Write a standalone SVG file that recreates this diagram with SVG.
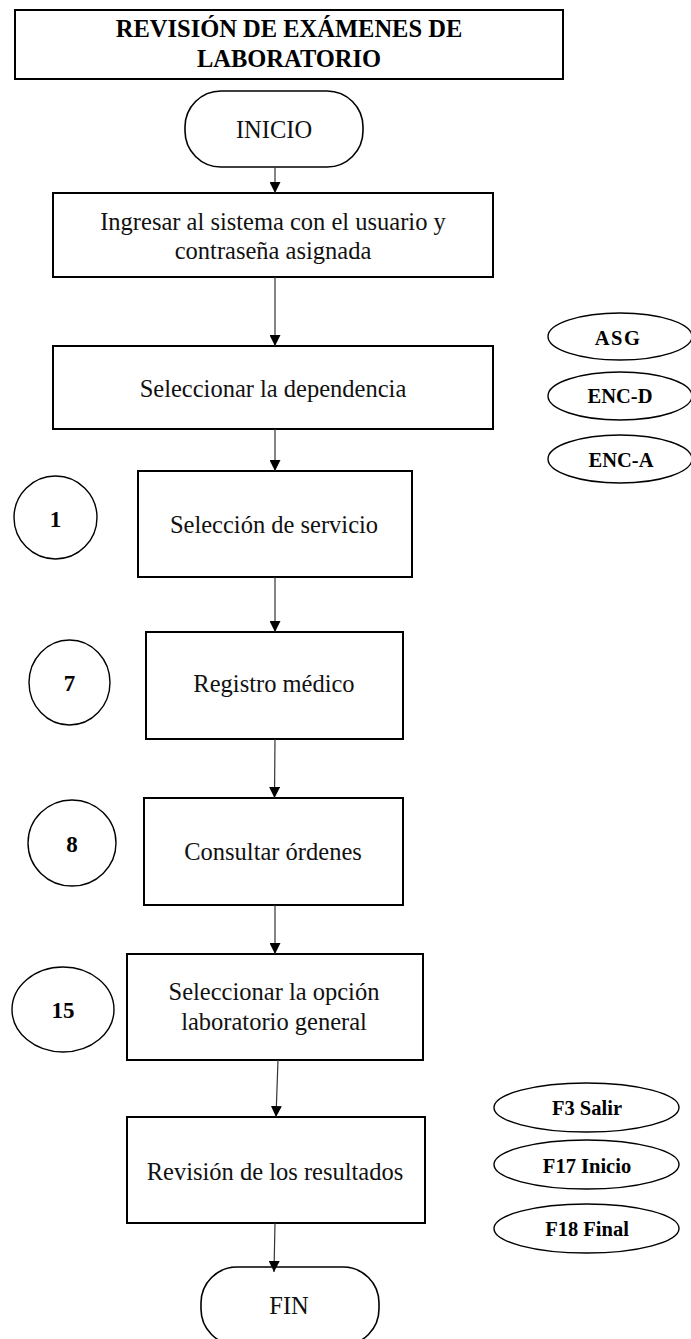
<svg xmlns="http://www.w3.org/2000/svg" width="691" height="1339" viewBox="0 0 691 1339">
<style>
  .box { fill: #ffffff; stroke: #000000; stroke-width: 2; }
  .term { fill: #ffffff; stroke: #000000; stroke-width: 1.6; }
  .circ { fill: #ffffff; stroke: #000000; stroke-width: 1.4; }
  .ell { fill: #ffffff; stroke: #000000; stroke-width: 1.4; }
  .txt { font-family: "Liberation Serif", "Times New Roman", serif; font-size: 24.5px; fill: #111111; text-anchor: middle; }
  .title { font-family: "Liberation Serif", "Times New Roman", serif; font-size: 24.5px; font-weight: bold; fill: #000000; text-anchor: middle; }
  .num { font-family: "Liberation Serif", "Times New Roman", serif; font-size: 23px; font-weight: bold; fill: #000000; text-anchor: middle; }
  .key { font-family: "Liberation Serif", "Times New Roman", serif; font-size: 20.5px; font-weight: bold; fill: #000000; text-anchor: middle; }
  .conn { stroke: #333333; stroke-width: 1.2; fill: none; marker-end: url(#arrow); }
</style>
<defs>
  <marker id="arrow" markerUnits="userSpaceOnUse" viewBox="0 0 10 10" refX="10" refY="5" markerWidth="11" markerHeight="11" orient="auto">
    <path d="M0,0 L10,5 L0,10 z" fill="#000000"/>
  </marker>
</defs>

<g id="title">
  <rect class="box" x="15" y="10" width="548" height="69"/>
  <text class="title" x="289" y="37">REVISIÓN DE EXÁMENES DE</text>
  <text class="title" x="289" y="67">LABORATORIO</text>
</g>

<g id="inicio">
  <rect class="term" x="185" y="91" width="178" height="76" rx="36" ry="36"/>
  <text class="txt" x="274" y="138">INICIO</text>
</g>

<g id="ingresar">
  <rect class="box" x="53" y="193" width="440" height="84"/>
  <text class="txt" x="273" y="230">Ingresar al sistema con el usuario y</text>
  <text class="txt" x="273" y="259">contraseña asignada</text>
</g>

<g id="dependencia">
  <rect class="box" x="53" y="346" width="440" height="83"/>
  <text class="txt" x="273" y="397">Seleccionar la dependencia</text>
</g>

<g id="servicio">
  <rect class="box" x="138" y="471" width="274" height="106"/>
  <text class="txt" x="274" y="533">Selección de servicio</text>
</g>

<g id="registro">
  <rect class="box" x="146" y="632" width="257" height="107"/>
  <text class="txt" x="274" y="692">Registro médico</text>
</g>

<g id="consultar">
  <rect class="box" x="144" y="798" width="259" height="107"/>
  <text class="txt" x="273" y="860">Consultar órdenes</text>
</g>

<g id="laboratorio">
  <rect class="box" x="127" y="954" width="296" height="106"/>
  <text class="txt" x="274" y="1000">Seleccionar la opción</text>
  <text class="txt" x="274" y="1030">laboratorio general</text>
</g>

<g id="revision">
  <rect class="box" x="127" y="1117" width="298" height="106"/>
  <text class="txt" x="275" y="1180">Revisión de los resultados</text>
</g>

<g id="fin">
  <rect class="term" x="201" y="1267" width="178" height="78" rx="36" ry="36"/>
  <text class="txt" x="289" y="1314">FIN</text>
</g>

<g id="c1">
  <ellipse class="circ" cx="55.5" cy="517.5" rx="41.5" ry="41.5"/>
  <text class="num" x="55.5" y="527">1</text>
</g>
<g id="c7">
  <ellipse class="circ" cx="69.5" cy="682.5" rx="40.5" ry="42.5"/>
  <text class="num" x="69.5" y="691">7</text>
</g>
<g id="c8">
  <ellipse class="circ" cx="72" cy="843" rx="44" ry="43"/>
  <text class="num" x="72" y="852">8</text>
</g>
<g id="c15">
  <ellipse class="circ" cx="63" cy="1009.5" rx="51" ry="42.5"/>
  <text class="num" x="63" y="1018">15</text>
</g>

<g id="asg">
  <ellipse class="ell" cx="620" cy="336.5" rx="72" ry="23.5"/>
  <text class="key" x="618" y="345" letter-spacing="1.5">ASG</text>
</g>
<g id="enc-d">
  <ellipse class="ell" cx="620" cy="396" rx="72" ry="24"/>
  <text class="key" x="620" y="403">ENC-D</text>
</g>
<g id="enc-a">
  <ellipse class="ell" cx="620" cy="459" rx="72" ry="24"/>
  <text class="key" x="621" y="467">ENC-A</text>
</g>

<g id="f3">
  <ellipse class="ell" cx="586.5" cy="1107.5" rx="92.5" ry="24.5"/>
  <text class="key" x="587" y="1115">F3 Salir</text>
</g>
<g id="f17">
  <ellipse class="ell" cx="586.5" cy="1164.5" rx="92.5" ry="24.5"/>
  <text class="key" x="587" y="1173">F17 Inicio</text>
</g>
<g id="f18">
  <ellipse class="ell" cx="586.5" cy="1228.5" rx="92.5" ry="24.5"/>
  <text class="key" x="587" y="1236">F18 Final</text>
</g>

<g id="connectors">
  <line class="conn" x1="275" y1="167" x2="275" y2="193"/>
  <line class="conn" x1="275" y1="277" x2="275" y2="346"/>
  <line class="conn" x1="275" y1="429" x2="275" y2="471"/>
  <line class="conn" x1="275" y1="577" x2="275" y2="632"/>
  <line class="conn" x1="275" y1="739" x2="274.5" y2="798"/>
  <line class="conn" x1="275" y1="905" x2="275" y2="954"/>
  <line class="conn" x1="278" y1="1060" x2="276" y2="1117"/>
  <line class="conn" x1="275" y1="1223" x2="274" y2="1272"/>
</g>
</svg>
